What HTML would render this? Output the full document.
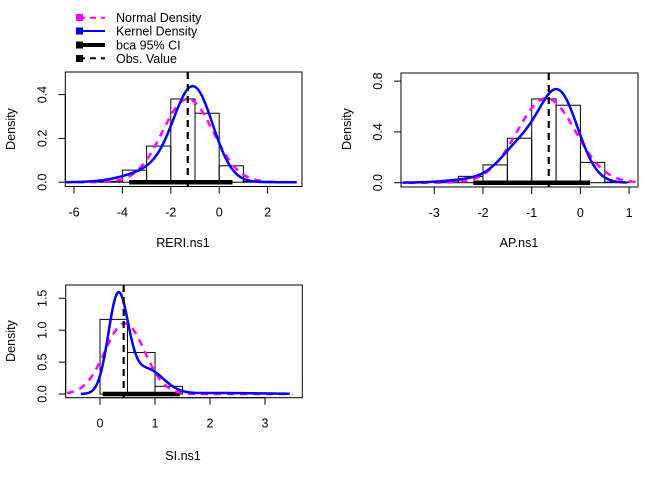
<!DOCTYPE html>
<html><head><meta charset="utf-8"><style>
body{margin:0;background:#fff}
svg{display:block;font-family:"Liberation Sans",Arial,sans-serif;font-size:12.5px}
</style></head><body>
<svg id="s" width="672" height="480" xmlns="http://www.w3.org/2000/svg">
<rect width="672" height="480" fill="#fff"/>
<defs>
<clipPath id="c1"><rect x="65" y="72" width="237" height="114.5"/></clipPath>
<clipPath id="c2"><rect x="401" y="73" width="237" height="114"/></clipPath>
<clipPath id="c3"><rect x="65.5" y="285" width="237" height="113"/></clipPath>
</defs>
<g>
<line x1="79" y1="17.7" x2="105" y2="17.7" stroke="#f0f" stroke-width="2" stroke-dasharray="6,5"/>
<rect x="76" y="14" width="7" height="7" fill="#f0f"/>
<line x1="79" y1="31" x2="105" y2="31" stroke="#00f" stroke-width="2"/>
<rect x="76" y="27.5" width="7" height="7" fill="#00f"/>
<line x1="79" y1="45" x2="105" y2="45" stroke="#000" stroke-width="4"/>
<rect x="76" y="41.5" width="7" height="7" fill="#000"/>
<line x1="79" y1="58.3" x2="105" y2="58.3" stroke="#000" stroke-width="2" stroke-dasharray="6,5"/>
<rect x="76" y="55" width="7" height="7" fill="#000"/>
<text x="116" y="22">Normal Density</text>
<text x="116" y="35.5">Kernel Density</text>
<text x="116" y="49.5">bca 95% CI</text>
<text x="116" y="63">Obs. Value</text>
</g>
<text x="15" y="129" transform="rotate(-90 15 129)" text-anchor="middle">Density</text>
<text x="351" y="129" transform="rotate(-90 351 129)" text-anchor="middle">Density</text>
<text x="15" y="341" transform="rotate(-90 15 341)" text-anchor="middle">Density</text>
<text x="183" y="247" text-anchor="middle">RERI.ns1</text>
<text x="519" y="247" text-anchor="middle">AP.ns1</text>
<text x="183" y="460" text-anchor="middle">SI.ns1</text>
<g id="g"></g>
</svg>
<script>
var g=document.getElementById('g'),NS='http://www.w3.org/2000/svg';
function el(t,a,txt){var e=document.createElementNS(NS,t);for(var k in a)e.setAttribute(k,a[k]);if(txt!=null)e.textContent=txt;g.appendChild(e);return e;}
function N(x,m,s){return Math.exp(-(x-m)*(x-m)/(2*s*s))/(s*2.5066);}
function panel(P){
 var X=function(v){return P.x0+(v-P.xv0)*P.sx},Y=function(v){return P.y0-v*P.sy};
 P.bins.forEach(function(b){el('rect',{x:X(b[0]),y:Y(b[2]),width:X(b[1])-X(b[0]),height:Y(0)-Y(b[2]),fill:'none',stroke:'#000','stroke-width':1});});
 el('line',{x1:X(P.ci[0]),x2:X(P.ci[1]),y1:Y(0),y2:Y(0),stroke:'#000','stroke-width':4.5});
 function curve(f,a,b,attrs){var d='';for(var i=0;i<=300;i++){var v=a+(b-a)*i/300;d+=(i?'L':'M')+X(v).toFixed(2)+','+Y(f(v)).toFixed(2);}attrs.d=d;attrs.fill='none';attrs['clip-path']=P.clip;el('path',attrs);}
 curve(P.norm,P.na,P.nb,{stroke:'#f0f','stroke-width':2.5,'stroke-dasharray':'7,6'});
 curve(P.kern,P.ka,P.kb,{stroke:'#00f','stroke-width':2.5});
 el('line',{x1:X(P.obs),x2:X(P.obs),y1:P.by0,y2:P.by1,stroke:'#000','stroke-width':2.2,'stroke-dasharray':'7,5'});
 el('rect',{x:P.bx0,y:P.by0,width:P.bx1-P.bx0,height:P.by1-P.by0,fill:'none',stroke:'#000','stroke-width':1});
 P.xt.forEach(function(v){var x=X(v);el('line',{x1:x,x2:x,y1:P.by1,y2:P.by1+7,stroke:'#000'});el('text',{x:x,y:P.by1+30,'text-anchor':'middle'},String(v));});
 el('line',{x1:X(P.xt[0]),x2:X(P.xt[P.xt.length-1]),y1:P.by1,y2:P.by1,stroke:'#000'});
 P.yt.forEach(function(t){var y=Y(t[0]);el('line',{x1:P.bx0,x2:P.bx0-7,y1:y,y2:y,stroke:'#000'});var tx=P.bx0-19;el('text',{x:tx,y:y,'text-anchor':'middle',transform:'rotate(-90 '+tx+' '+y+')'},t[1]);});
 el('line',{x1:P.bx0,x2:P.bx0,y1:Y(P.yt[0][0]),y2:Y(P.yt[P.yt.length-1][0]),stroke:'#000'});
}
panel({x0:74,xv0:-6,sx:24.2,y0:182.2,sy:219,bx0:65.3,bx1:302,by0:72,by1:186.5,clip:'url(#c1)',
 bins:[[-5,-4,0.004],[-4,-3,0.055],[-3,-2,0.165],[-2,-1,0.38],[-1,0,0.315],[0,1,0.075],[1,2,0.004]],
 ci:[-3.72,0.55],obs:-1.3,
 norm:function(v){return N(v,-1.3,1.05)},na:-6.4,nb:3.2,
 kern:function(v){return 0.82*N(v,-1.05,0.8)+0.18*N(v,-2.5,1.2)},ka:-6.4,kb:3.2,
 xt:[-6,-4,-2,0,2],yt:[[0,'0.0'],[0.2,'0.2'],[0.4,'0.4']]});
panel({x0:434.3,xv0:-3,sx:48.7,y0:182.7,sy:127,bx0:401,bx1:638,by0:73,by1:187,clip:'url(#c2)',
 bins:[[-3,-2.5,0.012],[-2.5,-2,0.05],[-2,-1.5,0.14],[-1.5,-1,0.35],[-1,-0.5,0.66],[-0.5,0,0.61],[0,0.5,0.16],[0.5,1,0.005]],
 ci:[-2.2,0.2],obs:-0.65,
 norm:function(v){return N(v,-0.7,0.6)},na:-3.8,nb:1.3,
 kern:function(v){return 0.7*N(v,-0.45,0.4)+0.25*N(v,-1.25,0.4)+0.05*N(v,-2,0.6)},ka:-3.65,kb:0.95,
 xt:[-3,-2,-1,0,1],yt:[[0,'0.0'],[0.4,'0.4'],[0.8,'0.8']]});
panel({x0:100,xv0:0,sx:55,y0:394,sy:63.8,bx0:65.7,bx1:302.3,by0:285,by1:397.7,clip:'url(#c3)',
 bins:[[0,0.5,1.17],[0.5,1,0.65],[1,1.5,0.12]],
 ci:[0.05,1.45],obs:0.43,
 norm:function(v){return N(v,0.45,0.36)},na:-0.6,nb:3.5,
 kern:function(v){return 0.68*N(v,0.33,0.18)+0.29*N(v,0.85,0.3)+0.03*N(v,2.2,0.8)},ka:-0.35,kb:3.45,
 xt:[0,1,2,3],yt:[[0,'0.0'],[0.5,'0.5'],[1,'1.0'],[1.5,'1.5']]});
</script>
</body></html>
